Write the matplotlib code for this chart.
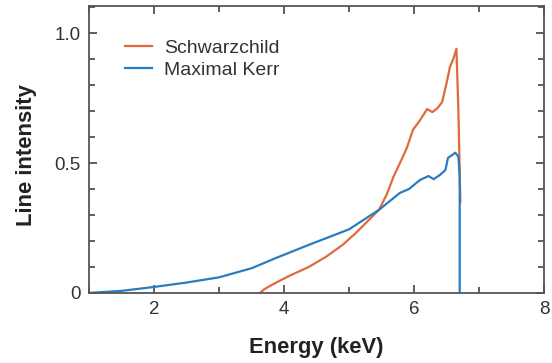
import matplotlib
matplotlib.use('Agg')
import matplotlib.pyplot as plt
from matplotlib.ticker import FixedLocator, MultipleLocator

plt.rcParams['font.family'] = ['Liberation Sans', 'DejaVu Sans']

# Line profile for a non-rotating black hole
schw_energy = [3.63, 3.70, 3.88, 4.10, 4.38, 4.65, 4.90, 5.10, 5.30, 5.46, 5.58,
               5.68, 5.80, 5.89, 5.98, 6.09, 6.20, 6.28, 6.36, 6.43, 6.50, 6.55,
               6.60, 6.65, 6.68, 6.71]
schw_intensity = [0.0, 0.015, 0.04, 0.068, 0.10, 0.14, 0.185, 0.23, 0.28, 0.32, 0.38,
                  0.446, 0.51, 0.56, 0.627, 0.665, 0.708, 0.696, 0.712, 0.735, 0.81,
                  0.87, 0.9, 0.94, 0.7, 0.35]

# Line profile for a maximally spinning black hole
kerr_energy = [1.0, 1.5, 2.0, 2.5, 3.0, 3.5, 3.88, 4.38, 5.0, 5.46, 5.78, 5.92,
               6.09, 6.22, 6.30, 6.40, 6.48, 6.52, 6.58, 6.63, 6.68, 6.70, 6.70]
kerr_intensity = [0.0, 0.008, 0.023, 0.04, 0.06, 0.095, 0.135, 0.185, 0.245, 0.32,
                  0.385, 0.40, 0.435, 0.45, 0.438, 0.455, 0.473, 0.52, 0.53, 0.54,
                  0.525, 0.45, 0.0]

x_ticks = [2, 4, 6, 8]
y_ticks = [0, 0.5, 1.0]
y_tick_labels = ['0', '0.5', '1.0']

orange = '#e06a3e'
blue = '#2a7cc0'
grey = '#333333'

fig = plt.figure(figsize=(5.52, 3.63), dpi=100)
ax = fig.add_axes([0.161, 0.193, 0.825, 0.790])

ax.plot(schw_energy, schw_intensity, color=orange, lw=1.6, label='Schwarzchild')
ax.plot(kerr_energy, kerr_intensity, color=blue, lw=1.6, label='Maximal Kerr')

ax.set_xlim(1, 8)
ax.set_ylim(0, 1.104)
ax.xaxis.set_major_locator(FixedLocator(x_ticks))
ax.xaxis.set_minor_locator(MultipleLocator(1))
ax.yaxis.set_major_locator(FixedLocator(y_ticks))
ax.set_yticklabels(y_tick_labels)
ax.yaxis.set_minor_locator(MultipleLocator(0.1))

ax.tick_params(which='both', direction='in', top=True, right=True,
               color=grey, labelcolor=grey, labelsize=13.5, width=1.1)
ax.tick_params(which='major', length=6, pad=6)
ax.tick_params(which='minor', length=4)
for sp in ax.spines.values():
    sp.set_color('#555555')
    sp.set_linewidth(1.3)

ax.set_xlabel('Energy (keV)', fontsize=15.8, fontweight='bold', color='#222222')
ax.xaxis.set_label_coords(0.5, -0.155)
ax.set_ylabel('Line intensity', fontsize=15.8, fontweight='bold', color='#222222')
ax.yaxis.set_label_coords(-0.113, 0.48)

ax.legend(loc='upper left', bbox_to_anchor=(0.04, 0.945), frameon=False,
          fontsize=14, handlelength=1.4, handletextpad=0.65, labelspacing=0.22,
          labelcolor='#333333')

fig.savefig('out.png', dpi=100)
